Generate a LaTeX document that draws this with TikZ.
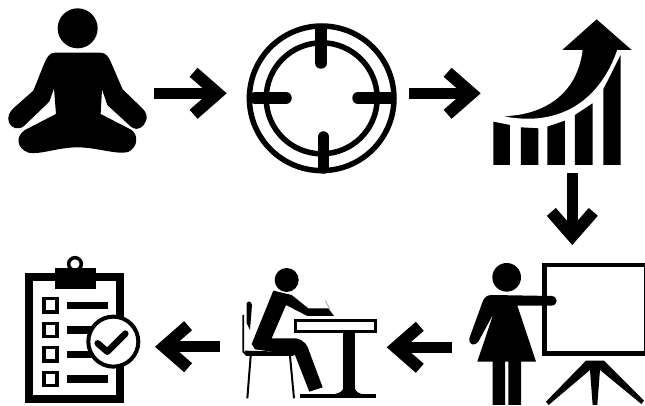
\documentclass[tikz,border=0pt]{standalone}
\usetikzlibrary{arrows.meta}
\tikzset{
  flow/.style={line width=10.5pt,-{Straight Barb[length=24pt,width=42pt,line width=12pt]},line cap=butt},
  tiny/.style={x=0.3333pt,y=-0.3333pt}
}
\begin{document}
\begin{tikzpicture}[x=1pt,y=-1pt]
\useasboundingbox (0,0) rectangle (645,406);
% arrow ends
\coordinate (a1s) at (154,93.3); \coordinate (a1e) at (226.7,93.3);
\coordinate (a2s) at (409,93.3); \coordinate (a2e) at (480.7,93.3);
\coordinate (a3s) at (572.3,173); \coordinate (a3e) at (572.3,245);
\coordinate (a4s) at (451.7,347.3); \coordinate (a4e) at (386.7,347.3);
\coordinate (a5s) at (220,346.7); \coordinate (a5e) at (155,346.7);
\draw[flow] (a1s) -- (a1e);
\draw[flow] (a2s) -- (a2e);
\draw[flow] (a3s) -- (a3e);
\draw[flow] (a4s) -- (a4e);
\draw[flow] (a5s) -- (a5e);
% meditating person
\begin{scope}[tiny]
\fill (233,85) circle[radius=60];
\fill[line join=round] (165,158) -- (300,158) .. controls (318,158) and (325,170) .. (332,185)
 -- (368,268) -- (430,328) .. controls (448,348) and (440,372) .. (420,384)
 .. controls (405,392) and (392,380) .. (385,373) -- (322,315) -- (306,268) -- (302,342)
 -- (395,390) .. controls (415,405) and (415,440) .. (385,456)
 .. controls (350,465) and (290,442) .. (232,442)
 .. controls (175,442) and (120,465) .. (85,458)
 .. controls (50,445) and (45,410) .. (75,390)
 -- (168,342) -- (162,265) -- (148,305) -- (72,378)
 .. controls (55,392) and (35,385) .. (27,368)
 .. controls (20,350) and (30,335) .. (40,325) -- (100,272) -- (135,185)
 .. controls (142,170) and (150,158) .. (165,158) -- cycle;
\end{scope}
% target
\draw[line width=5.5pt] (321.7,98.3) circle[radius=72.3];
\draw[line width=5.5pt] (321.7,98.3) circle[radius=55.5];
\draw[line width=11.5pt,line cap=round] (321,30) -- (321,63);
\draw[line width=11.5pt,line cap=round] (323.5,137) -- (323.5,168);
\draw[line width=11.5pt,line cap=round] (255,98) -- (286,98);
\draw[line width=11.5pt,line cap=round] (358,98) -- (390,98);
% growth
\begin{scope}[shift={(230,0)},tiny]
\fill (790,365) -- (840,375) -- (840,495) -- (790,495) -- cycle;
\fill (873,382) -- (925,385) -- (925,495) -- (873,495) -- cycle;
\fill (952,380) -- (1005,362) -- (1005,495) -- (952,495) -- cycle;
\fill (1035,345) -- (1088,310) -- (1088,495) -- (1035,495) -- cycle;
\fill (1120,268) -- (1172,165) -- (1172,495) -- (1120,495) -- cycle;
\fill[draw=white,line width=2pt] (790,345) .. controls (905,352) and (1035,305) .. (1055,150)
 -- (997,150) -- (1100,58) -- (1205,150) -- (1165,150)
 .. controls (1110,310) and (980,395) .. (790,345) -- cycle;
\fill (997,150) -- (1100,58) -- (1205,150) -- cycle;
\end{scope}
% clipboard
\begin{scope}[shift={(0,240)},tiny]
\draw[line width=8pt,miter limit=10] (88,110) rectangle (360,478);
\fill (165,85) rectangle (288,147);
\draw[line width=3.5pt] (225,72) circle[radius=19];
\foreach \yy in {196,270,343,417}{
  \draw[line width=3.5pt] (132,\yy-20) rectangle (171,\yy+20);
  \draw[line width=7.5pt] (200,\yy) -- (325,\yy);
}
\draw[line width=4pt,fill=white] (340,305) circle[radius=75];
\draw[line width=6.5pt,line cap=round,line join=round] (293,310) -- (322,335) -- (376,281);
\end{scope}
% writer at desk
\begin{scope}[shift={(230,250)},tiny]
\fill (170,90) circle[radius=36];
\fill[line join=round] (130,122) -- (185,135) -- (235,175) -- (295,175) -- (312,198) -- (232,198)
 -- (168,165) -- (125,265) -- (198,265) .. controls (225,272) and (232,285) .. (238,305)
 -- (278,412) -- (238,425) -- (195,315) -- (75,298) -- (65,282) -- cycle;
\draw[gray!70,line width=0.8pt] (286,152) -- (300,178);
\draw[line width=3pt,fill=white] (197,212) rectangle (438,245);
\fill (340,247) rectangle (374,420);
\fill (315,432) .. controls (335,428) and (340,420) .. (340,410) -- (374,410) .. controls (374,420) and (380,428) .. (395,432) -- cycle;
\draw[line width=4.5pt] (210,438) -- (437,438);
\fill (50,160) .. controls (55,152) and (62,152) .. (66,165) -- (60,240) -- (50,220) -- cycle;
\draw[line width=1.7pt] (40,195) -- (40,305) -- (50,315) -- (190,315);
\draw[line width=4pt] (45,308) -- (190,312);
\draw[line width=2pt] (62,318) -- (52,445);
\draw[line width=2pt] (180,318) -- (192,445);
\end{scope}
% teacher and board
\begin{scope}[shift={(460,170)},tiny]
\draw[line width=4.5pt] (253,285) rectangle (560,551);
\fill (140,322) circle[radius=43];
\fill[line join=round] (95,375) -- (275,378) .. controls (295,380) and (295,405) .. (275,407)
 -- (172,407) -- (228,575) -- (183,575) -- (183,705) -- (145,705) -- (145,575) -- (135,575)
 -- (135,705) -- (98,705) -- (98,575) -- (52,575) -- (100,432) -- (55,515)
 .. controls (45,530) and (25,525) .. (28,505) -- (68,395) .. controls (72,382) and (82,375) .. (95,375) -- cycle;
\fill (378,572) -- (432,572) -- (552,692) -- (544,702) -- (420,600) -- (412,705) -- (398,705)
 -- (390,600) -- (266,705) -- (258,695) -- cycle;
\end{scope}
\end{tikzpicture}
\end{document}
